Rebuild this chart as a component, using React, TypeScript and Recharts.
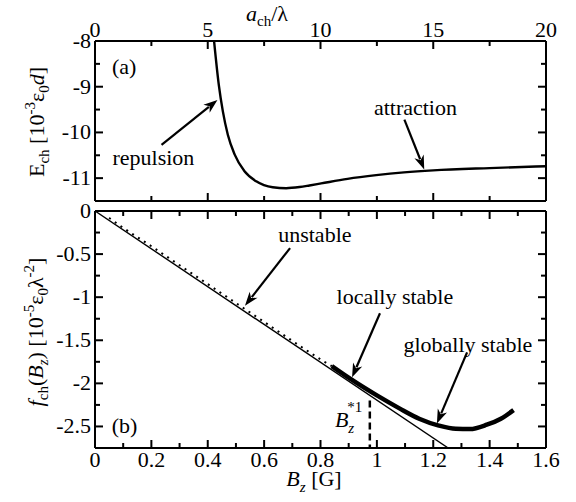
import React from 'react';
import { LineChart, Line, XAxis, YAxis, ReferenceLine, ReferenceDot } from 'recharts';

const FONT = '"Liberation Serif", "Times New Roman", Times, serif';

// panel (a): E_ch vs a_ch/lambda
const aRatio = [5.28, 5.49, 5.67, 5.89, 6.19, 6.63, 7.15, 7.88, 8.48, 9.07, 9.51, 10.03, 11.2, 12.47, 13.7, 15, 17.5, 20];
const eCh = [-8.0, -8.96, -9.54, -10.05, -10.48, -10.85, -11.07, -11.2, -11.22, -11.195, -11.16, -11.115, -11.015, -10.935, -10.875, -10.83, -10.78, -10.74];
const topXTicks = [0, 2.5, 5, 7.5, 10, 12.5, 15, 17.5, 20];
const topYTicks = [-11, -10.5, -10, -9.5, -9, -8.5, -8];

// panel (b): f_ch vs B_z
const bzLine = [0, 1.253];
const fLine = [0, -2.75];
const bzUnstable = [0.05, 0.1, 0.2, 0.3, 0.4, 0.5, 0.6, 0.7, 0.8, 0.84];
const fUnstable = [-0.08, -0.195, -0.409, -0.629, -0.848, -1.068, -1.287, -1.507, -1.721, -1.8];
const bzStable = [0.84, 0.905, 1.0, 1.08, 1.15, 1.22, 1.28, 1.33, 1.39, 1.44, 1.485];
const fStable = [-1.8, -1.946, -2.14, -2.29, -2.41, -2.49, -2.527, -2.53, -2.48, -2.41, -2.31];
const bzCritical = 0.975;
const fCriticalTop = -2.2;
const bottomXTicks = [0, 0.1, 0.2, 0.3, 0.4, 0.5, 0.6, 0.7, 0.8, 0.9, 1, 1.1, 1.2, 1.3, 1.4, 1.5, 1.6];
const bottomYTicks = [-2.5, -2.25, -2, -1.75, -1.5, -1.25, -1, -0.75, -0.5, -0.25, 0];

// annotations: [x, y] in data units
const topNotes = [
  { text: '(a)', at: [1.29, -8.57] },
  { text: 'repulsion', at: [2.59, -10.55] },
  { text: 'attraction', at: [14.21, -9.46] },
];
const topArrows = [
  { from: [2.95, -10.27], to: [5.43, -9.29] },
  { from: [13.72, -9.72], to: [14.6, -10.81] },
];
const bottomNotes = [
  { text: '(b)', at: [0.105, -2.49] },
  { text: 'unstable', at: [0.78, -0.28] },
  { text: 'locally stable', at: [1.064, -1.0] },
  { text: 'globally stable', at: [1.323, -1.558] },
];
const bottomArrows = [
  { from: [0.692, -0.43], to: [0.532, -1.1] },
  { from: [1.011, -1.186], to: [0.912, -1.93] },
  { from: [1.32, -1.64], to: [1.213, -2.465] },
];
const criticalLabelAt = [0.851, -2.51];

const toPoints = (xs: number[], ys: number[]) => xs.map((x, i) => ({ x, y: ys[i] }));
const topCurve = toPoints(aRatio, eCh);
const straight = toPoints(bzLine, fLine);
const unstable = toPoints(bzUnstable, fUnstable);
const stable = toPoints(bzStable, fStable);

const AxisTick = (props: any) => {
  const { x, y, payload, side, major, showLabel } = props;
  const v = payload.value;
  const isMajor = major(v);
  const len = isMajor ? 8 : 5;
  let x2 = x;
  let y2 = y;
  if (side === 'top') y2 = y + len;
  if (side === 'bottom') y2 = y - len;
  if (side === 'left') x2 = x + len;
  if (side === 'right') x2 = x - len;
  let label = null;
  if (showLabel && isMajor) {
    const common = { fontFamily: FONT, fontSize: 22, fill: '#000' };
    if (side === 'top') label = <text {...common} x={x} y={y - 4} textAnchor="middle">{String(v)}</text>;
    if (side === 'bottom') label = <text {...common} x={x} y={y + 19} textAnchor="middle">{String(v)}</text>;
    if (side === 'left') label = <text {...common} x={x - 4} y={y + 7} textAnchor="end">{String(v)}</text>;
  }
  return (
    <g>
      <line x1={x} y1={y} x2={x2} y2={y2} stroke="#000" strokeWidth={2} />
      {label}
    </g>
  );
};

const Arrow = (p: any) => {
  const { x1, y1, x2, y2 } = p;
  const ang = Math.atan2(y2 - y1, x2 - x1);
  const L = 14;
  const W = 5;
  const bx = x2 - L * Math.cos(ang);
  const by = y2 - L * Math.sin(ang);
  const px = -Math.sin(ang) * W;
  const py = Math.cos(ang) * W;
  return (
    <g>
      <line x1={x1} y1={y1} x2={bx + 3 * Math.cos(ang)} y2={by + 3 * Math.sin(ang)} stroke="#000" strokeWidth={2.2} />
      <polygon points={`${x2},${y2} ${bx + px},${by + py} ${bx + 4 * Math.cos(ang)},${by + 4 * Math.sin(ang)} ${bx - px},${by - py}`} fill="#000" />
    </g>
  );
};

const noteShape = (text: string) => (p: any) => (
  <text x={p.cx} y={p.cy + 7} textAnchor="middle" fontFamily={FONT} fontSize={22} fill="#000">
    {text}
  </text>
);

const criticalShape = (p: any) => (
  <text x={p.cx} y={p.cy} fontFamily={FONT} fontSize={22} fill="#000">
    <tspan fontStyle="italic">B</tspan>
    <tspan fontStyle="italic" fontSize={15} dy={6}>z</tspan>
    <tspan fontSize={15} dx={-7} dy={-21}>*1</tspan>
  </text>
);

const topMajorX = (v: number) => v % 5 === 0;
const topMajorY = (v: number) => Number.isInteger(v);
const botMajorX = (v: number) => Math.round(v * 10) % 2 === 0;
const botMajorY = (v: number) => Math.round(v * 4) % 2 === 0;

const axisLine = { stroke: '#000', strokeWidth: 2 };

// the lower chart starts at page y = 185
const LOW_TOP = 185;

const TopXTitle = () => (
  <text x={267} y={21} textAnchor="middle" fontFamily={FONT} fontSize={22} fill="#000">
    <tspan fontStyle="italic">a</tspan>
    <tspan fontSize={15} dy={5}>ch</tspan>
    <tspan dy={-5}>/λ</tspan>
  </text>
);

const TopYTitle = () => (
  <text x={37} y={129} transform="rotate(-90 37 122)" textAnchor="middle" fontFamily={FONT} fontSize={22} fill="#000">
    E<tspan fontSize={15} dy={5}>ch</tspan>
    <tspan dy={-5}> [10</tspan>
    <tspan fontSize={15} dy={-9}>-3</tspan>
    <tspan dy={9}>ε</tspan>
    <tspan fontSize={15} dy={5}>0</tspan>
    <tspan fontStyle="italic" dy={-5}>d</tspan>
    <tspan>]</tspan>
  </text>
);

const BottomYTitle = () => (
  <text x={36} y={332 - LOW_TOP + 7} transform={`rotate(-90 36 ${332 - LOW_TOP})`} textAnchor="middle" fontFamily={FONT} fontSize={22} fill="#000">
    <tspan fontStyle="italic">f</tspan>
    <tspan fontSize={15} dy={5}>ch</tspan>
    <tspan dy={-5}>(</tspan>
    <tspan fontStyle="italic">B</tspan>
    <tspan fontStyle="italic" fontSize={15} dy={5}>z</tspan>
    <tspan dy={-5}>)  [10</tspan>
    <tspan fontSize={15} dy={-9}>-5</tspan>
    <tspan dy={9}>ε</tspan>
    <tspan fontSize={15} dy={5}>0</tspan>
    <tspan dy={-5}>λ</tspan>
    <tspan fontSize={15} dy={-9}>-2</tspan>
    <tspan dy={9}>]</tspan>
  </text>
);

const BottomXTitle = () => (
  <text x={314} y={486 - LOW_TOP} textAnchor="middle" fontFamily={FONT} fontSize={22} fill="#000">
    <tspan fontStyle="italic">B</tspan>
    <tspan fontStyle="italic" fontSize={15} dy={6}>z</tspan>
    <tspan dy={-6}> [G]</tspan>
  </text>
);

export default function App() {
  return (
    <div style={{ position: 'absolute', left: 0, top: 0, width: 576, height: 502, background: '#fff', fontFamily: FONT }}>
      <div style={{ position: 'absolute', left: 0, top: 0 }}>
        <LineChart width={576} height={205} margin={{ top: 0, right: 0, bottom: 0, left: 0 }}>
          <XAxis xAxisId="t" orientation="top" type="number" dataKey="x" domain={[0, 20]} allowDataOverflow
            ticks={topXTicks} interval={0} height={41} tickSize={0} tickMargin={0} tickLine={false} axisLine={axisLine}
            tick={<AxisTick side="top" major={topMajorX} showLabel />} label={{ content: () => <TopXTitle /> }} />
          <XAxis xAxisId="b" orientation="bottom" type="number" dataKey="x" domain={[0, 20]} allowDataOverflow
            ticks={topXTicks} interval={0} height={4} tickSize={0} tickMargin={0} tickLine={false} axisLine={axisLine}
            tick={<AxisTick side="bottom" major={topMajorX} />} />
          <YAxis yAxisId="l" orientation="left" type="number" domain={[-11.5, -8]} allowDataOverflow
            ticks={topYTicks} interval={0} width={95} tickSize={0} tickMargin={0} tickLine={false} axisLine={axisLine}
            tick={<AxisTick side="left" major={topMajorY} showLabel />} label={{ content: () => <TopYTitle /> }} />
          <YAxis yAxisId="r" orientation="right" type="number" domain={[-11.5, -8]} allowDataOverflow
            ticks={topYTicks} interval={0} width={30} tickSize={0} tickMargin={0} tickLine={false} axisLine={axisLine}
            tick={<AxisTick side="right" major={topMajorY} />} />
          <Line data={topCurve} dataKey="y" xAxisId="t" yAxisId="l" type="monotone" stroke="#000" strokeWidth={2.4}
            dot={false} activeDot={false} isAnimationActive={false} />
          {topArrows.map((a, i) => (
            <ReferenceLine key={`ta${i}`} xAxisId="t" yAxisId="l" ifOverflow="visible"
              segment={[{ x: a.from[0], y: a.from[1] }, { x: a.to[0], y: a.to[1] }]} shape={Arrow} />
          ))}
          {topNotes.map((n, i) => (
            <ReferenceDot key={`tn${i}`} xAxisId="t" yAxisId="l" x={n.at[0]} y={n.at[1]} r={0} ifOverflow="visible"
              shape={noteShape(n.text)} />
          ))}
        </LineChart>
      </div>
      <div style={{ position: 'absolute', left: 0, top: LOW_TOP }}>
        <LineChart width={576} height={502 - LOW_TOP} margin={{ top: 0, right: 0, bottom: 0, left: 0 }}>
          <XAxis xAxisId="t" orientation="top" type="number" dataKey="x" domain={[0, 1.6]} allowDataOverflow
            ticks={bottomXTicks} interval={0} height={211 - LOW_TOP} tickSize={0} tickMargin={0} tickLine={false} axisLine={axisLine}
            tick={<AxisTick side="top" major={botMajorX} />} />
          <XAxis xAxisId="b" orientation="bottom" type="number" dataKey="x" domain={[0, 1.6]} allowDataOverflow
            ticks={bottomXTicks} interval={0} height={54} tickSize={0} tickMargin={0} tickLine={false} axisLine={axisLine}
            tick={<AxisTick side="bottom" major={botMajorX} showLabel />} label={{ content: () => <BottomXTitle /> }} />
          <YAxis yAxisId="l" orientation="left" type="number" domain={[-2.75, 0]} allowDataOverflow
            ticks={bottomYTicks} interval={0} width={95} tickSize={0} tickMargin={0} tickLine={false} axisLine={axisLine}
            tick={<AxisTick side="left" major={botMajorY} showLabel />} label={{ content: () => <BottomYTitle /> }} />
          <YAxis yAxisId="r" orientation="right" type="number" domain={[-2.75, 0]} allowDataOverflow
            ticks={bottomYTicks} interval={0} width={30} tickSize={0} tickMargin={0} tickLine={false} axisLine={axisLine}
            tick={<AxisTick side="right" major={botMajorY} />} />
          <Line data={straight} dataKey="y" xAxisId="b" yAxisId="l" type="linear" stroke="#000" strokeWidth={1.4}
            dot={false} activeDot={false} isAnimationActive={false} />
          <Line data={unstable} dataKey="y" xAxisId="b" yAxisId="l" type="monotone" stroke="#000" strokeWidth={2}
            strokeDasharray="2 5" dot={false} activeDot={false} isAnimationActive={false} />
          <Line data={stable} dataKey="y" xAxisId="b" yAxisId="l" type="monotone" stroke="#000" strokeWidth={4.5}
            dot={false} activeDot={false} isAnimationActive={false} />
          <ReferenceLine xAxisId="b" yAxisId="l" segment={[{ x: bzCritical, y: fCriticalTop }, { x: bzCritical, y: -2.75 }]}
            stroke="#000" strokeWidth={2.5} strokeDasharray="7 4" />
          {bottomArrows.map((a, i) => (
            <ReferenceLine key={`ba${i}`} xAxisId="b" yAxisId="l" ifOverflow="visible"
              segment={[{ x: a.from[0], y: a.from[1] }, { x: a.to[0], y: a.to[1] }]} shape={Arrow} />
          ))}
          {bottomNotes.map((n, i) => (
            <ReferenceDot key={`bn${i}`} xAxisId="b" yAxisId="l" x={n.at[0]} y={n.at[1]} r={0} ifOverflow="visible"
              shape={noteShape(n.text)} />
          ))}
          <ReferenceDot xAxisId="b" yAxisId="l" x={criticalLabelAt[0]} y={criticalLabelAt[1]} r={0} ifOverflow="visible"
            shape={criticalShape} />
        </LineChart>
      </div>
    </div>
  );
}
